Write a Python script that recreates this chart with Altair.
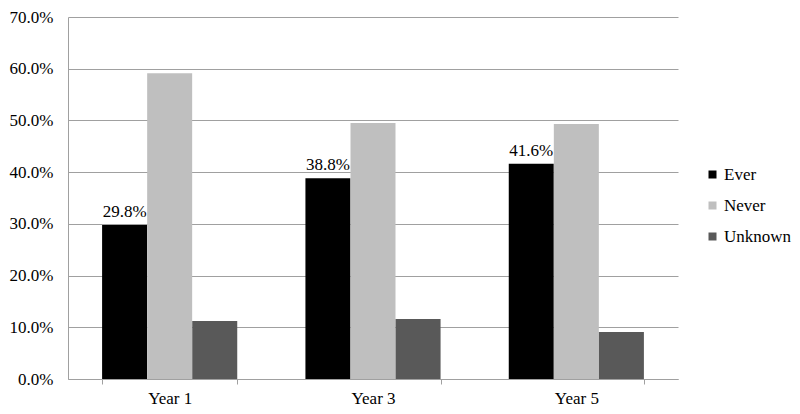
import altair as alt
import pandas as pd

years = ["Year 1", "Year 3", "Year 5"]
groups = ["Ever", "Never", "Unknown"]
ever = [29.8, 38.8, 41.6]
never = [59.1, 49.5, 49.3]
unknown = [11.2, 11.6, 9.1]
colors = ["#000000", "#bfbfbf", "#595959"]

rows = []
for i, y in enumerate(years):
    rows.append({"year": y, "group": "Ever", "value": ever[i] / 100})
    rows.append({"year": y, "group": "Never", "value": never[i] / 100})
    rows.append({"year": y, "group": "Unknown", "value": unknown[i] / 100})
df = pd.DataFrame(rows)
df["label"] = df["value"].map(lambda v: f"{v*100:.1f}%")

FONT = "Liberation Serif, Times New Roman, serif"
FS = 17

x = alt.X("year:N", sort=years, title=None,
          scale=alt.Scale(paddingInner=0.335, paddingOuter=0.1675),
          axis=alt.Axis(labelAngle=0, labelFontSize=FS, labelFont=FONT, labelColor="#000000",
                        labelPadding=6, ticks=True, tickBand="extent", tickSize=5,
                        tickColor="#a0a0a0", domainColor="#a0a0a0", grid=False))
y = alt.Y("value:Q", title=None,
          scale=alt.Scale(domain=[0, 0.7], nice=False),
          axis=alt.Axis(format=".1%", values=[0, 0.1, 0.2, 0.3, 0.4, 0.5, 0.6, 0.7],
                        labelFontSize=FS, labelFont=FONT, labelColor="#000000", labelPadding=15,
                        ticks=False, domainColor="#a0a0a0", gridColor="#a0a0a0"))

bars = alt.Chart(df).mark_bar(size=45).encode(
    x=x,
    xOffset=alt.XOffset("group:N", sort=groups, scale=alt.Scale(paddingInner=0, paddingOuter=0)),
    y=y,
    color=alt.Color("group:N", sort=groups, title=None,
                    scale=alt.Scale(domain=groups, range=colors),
                    legend=alt.Legend(orient="none", legendX=636, legendY=149,
                                      symbolType="square", symbolSize=64, symbolStrokeWidth=0,
                                      labelFont=FONT, labelFontSize=FS, labelColor="#000000",
                                      rowPadding=13, labelOffset=3, labelLimit=200)),
)

labels = alt.Chart(df[df["group"] == "Ever"]).mark_text(
    dy=-13, fontSize=FS, font=FONT, color="#000000"
).encode(
    x=alt.X("year:N", sort=years),
    xOffset=alt.XOffset("group:N", sort=groups),
    y="value:Q",
    text="label:N",
)

chart = alt.layer(bars, labels).properties(
    width=610, height=362,
    autosize=alt.AutoSizeParams(type="none"),
    padding={"left": 60, "top": 9, "right": 114, "bottom": 27},
).configure_view(stroke=None).configure_axis(
    domainWidth=1, gridWidth=1, labelFont=FONT
).configure_legend(labelFont=FONT).configure_text(font=FONT)

chart.save("out.html", embed_options={"renderer": "svg", "actions": False})
